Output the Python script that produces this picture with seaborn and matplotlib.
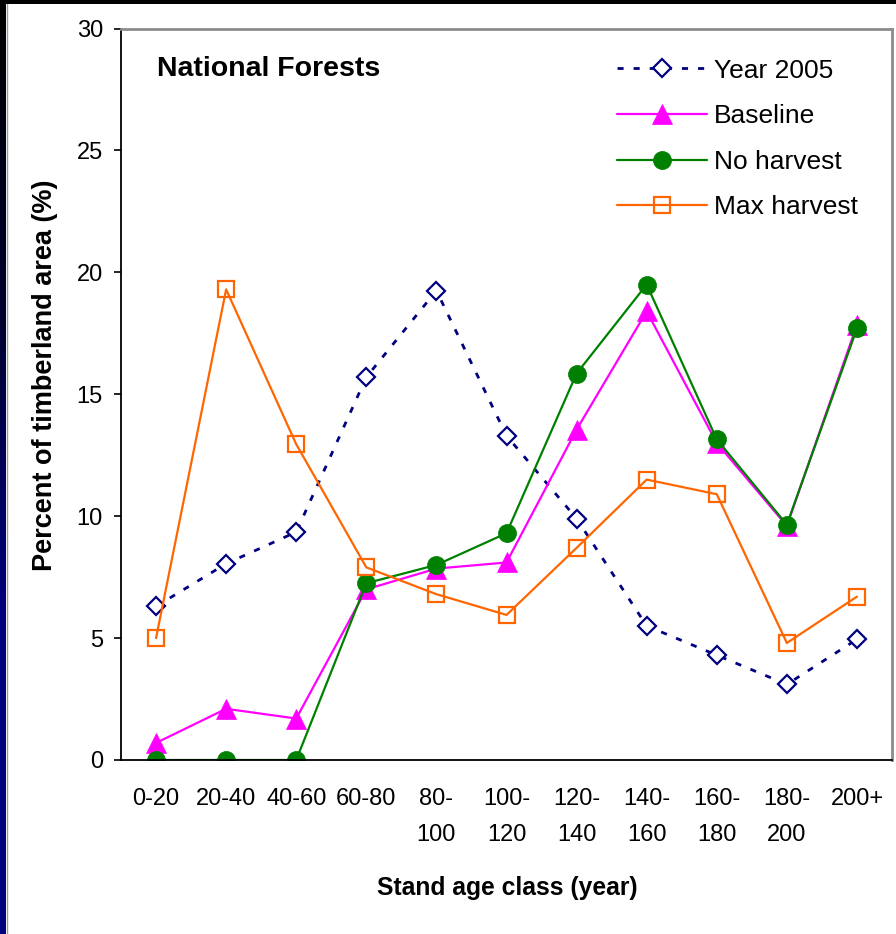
import numpy as np
import matplotlib
matplotlib.use("Agg")
import matplotlib.pyplot as plt
import seaborn as sns
from matplotlib.patches import Rectangle

# Stand age classes and the share of timberland area (%) in each
categories = ["0-20", "20-40", "40-60", "60-80", "80-\n100", "100-\n120",
              "120-\n140", "140-\n160", "160-\n180", "180-\n200", "200+"]
year_2005 = [6.3, 8.05, 9.35, 15.7, 19.25, 13.3, 9.9, 5.5, 4.3, 3.1, 4.95]
baseline = [0.7, 2.1, 1.7, 7.0, 7.85, 8.1, 13.55, 18.4, 13.0, 9.6, 17.85]
no_harvest = [0.0, 0.0, 0.0, 7.25, 8.0, 9.3, 15.85, 19.5, 13.15, 9.65, 17.7]
max_harvest = [5.0, 19.3, 12.95, 7.9, 6.8, 5.95, 8.7, 11.5, 10.9, 4.8, 6.7]
y_ticks = [0, 5, 10, 15, 20, 25, 30]

sns.set_style("white")
plt.rcParams["font.family"] = ["Liberation Sans", "DejaVu Sans"]
for key in ("text.color", "axes.labelcolor", "xtick.color", "ytick.color"):
    plt.rcParams[key] = "black"

W, H = 896, 934
fig = plt.figure(figsize=(W / 100, H / 100), dpi=100)
fig.patch.set_facecolor("white")

# slide frame: black strip along the top, dark gradient strip on the left
fig.patches.append(Rectangle((0, 1 - 4 / H), 1, 4 / H, transform=fig.transFigure,
                             facecolor="black", edgecolor="none", zorder=0))
band = fig.add_axes([0, 0, 6 / W, 1 - 4 / H])
grad = np.linspace(0, 1, 256).reshape(-1, 1)
band.imshow(grad, aspect="auto", cmap=matplotlib.colors.LinearSegmentedColormap.from_list(
    "frame", ["#000000", "#000030", "#000080", "#000080"]), extent=(0, 1, 0, 1))
band.axis("off")
fig.add_artist(plt.Line2D([6.5 / W, 6.5 / W], [0, 1 - 4 / H], transform=fig.transFigure,
                          color="#9a9a9a", lw=1))

ax = fig.add_axes([121 / W, 1 - 760 / H, (892 - 121) / W, (760 - 28.5) / H])
x = np.arange(len(categories))

sns.lineplot(x=x, y=year_2005, ax=ax, color="#000080", lw=2.0, dashes=False,
             linestyle=(0, (2.2, 3.6)), marker="D", markersize=9,
             markerfacecolor="white", markeredgecolor="#000080",
             markeredgewidth=1.6, label="Year 2005")
sns.lineplot(x=x, y=baseline, ax=ax, color="#FF00FF", lw=1.6, marker="^",
             markersize=14, markerfacecolor="#FF00FF", markeredgecolor="#FF00FF",
             markeredgewidth=0.5, label="Baseline")
sns.lineplot(x=x, y=no_harvest, ax=ax, color="#008000", lw=1.6, marker="o",
             markersize=13, markerfacecolor="#008000", markeredgecolor="#008000",
             markeredgewidth=0.5, label="No harvest")
sns.lineplot(x=x, y=max_harvest, ax=ax, color="#FF6600", lw=1.6, marker="s",
             markersize=11, markerfacecolor="none", markeredgecolor="#FF6600",
             markeredgewidth=1.6, label="Max harvest")

ax.set_xlim(-0.5, len(categories) - 0.5)
ax.set_ylim(0, 30)
ax.set_yticks(y_ticks)
ax.set_yticklabels([str(v) for v in y_ticks], fontsize=17)
ax.set_xticks(x)
ax.set_xticklabels(categories, fontsize=17, linespacing=1.85)
ax.set_xticks(np.arange(-0.5, len(categories)), minor=True)
ax.tick_params(axis="x", which="major", length=0, pad=20)
ax.tick_params(axis="x", which="minor", length=5, width=1.2, color="black", direction="out")
ax.tick_params(axis="y", which="major", length=5, width=1.2, color="black",
               direction="out", pad=8, left=True)

for side in ("left", "bottom"):
    ax.spines[side].set_color("black")
    ax.spines[side].set_linewidth(1.3)
for side in ("top", "right"):
    ax.spines[side].set_visible(True)
    ax.spines[side].set_color("#8c8c8c")
    ax.spines[side].set_linewidth(2.0)

ax.set_ylabel("Percent of timberland area (%)", fontsize=19.5, fontweight="bold",
              va="center")
ax.yaxis.set_label_coords((45 - 121) / 771, (760 - 376) / 731)
ax.set_xlabel("Stand age class (year)", fontsize=17.7, fontweight="bold", va="center")
ax.xaxis.set_label_coords((507 - 121) / 771, (760 - 888) / 731)

ax.text((157 - 121) / 771, (760 - 69) / 731, "National Forests", transform=ax.transAxes,
        fontsize=20.5, fontweight="bold", ha="left", va="center")

ax.legend(loc="upper left", bbox_to_anchor=((617 - 121) / 771, (760 - 59) / 731),
          frameon=False, fontsize=19, handlelength=3.4, handletextpad=0.27,
          labelspacing=0.82, borderaxespad=0, borderpad=0)

fig.savefig("out.png", dpi=100, facecolor="white")
